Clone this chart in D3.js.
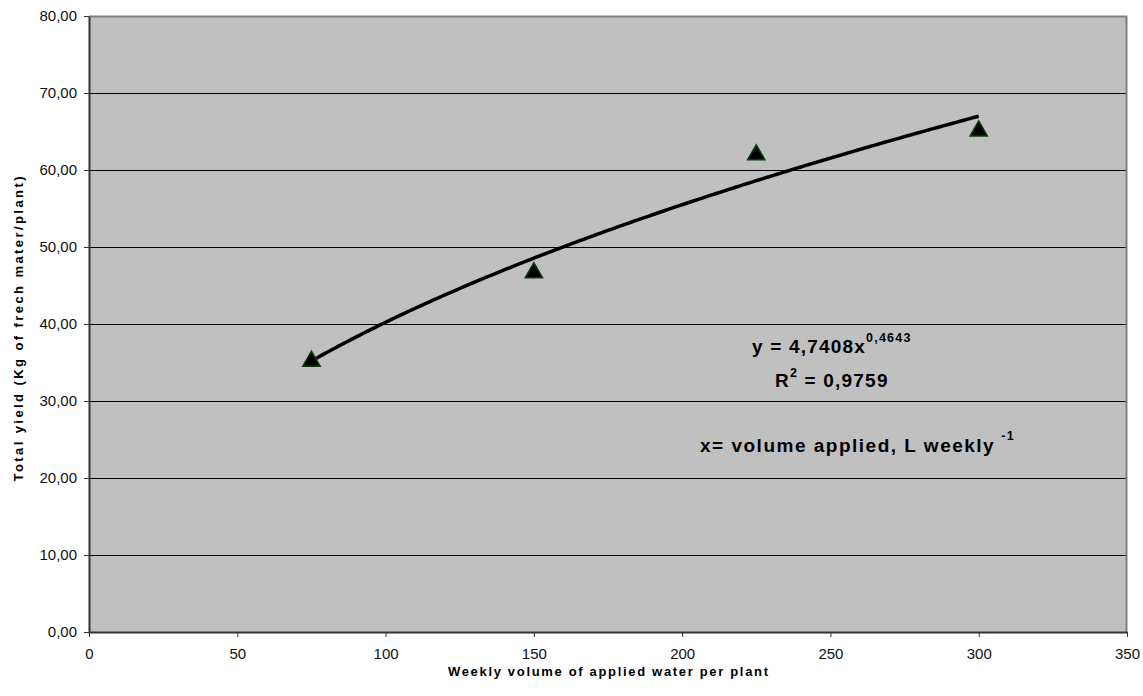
<!doctype html>
<html lang="en">
<head>
    <meta charset="UTF-8">
    <title>Total yield vs weekly water volume</title>
    <style>
        body { margin: 0; background: #fff; }
        svg text { font-family: "Liberation Sans", Arial, sans-serif; }
    </style>
</head>
<body>

<div class="canvas"></div>

<script src="https://d3js.org/d3.v7.min.js"></script>
<script>
    // observed points
    const volumes = [75, 150, 225, 300];
    const yields = [35.3, 46.8, 62.1, 65.2];

    // power trendline as printed on the chart: y = a * x^b
    const trendA = 4.7408;
    const trendB = 0.4643;

    const xTicks = [0, 50, 100, 150, 200, 250, 300, 350];
    const yTicks = [0, 10, 20, 30, 40, 50, 60, 70, 80];

    const svgWidth = 1143;
    const svgHeight = 696;
    const margin = { top: 16, right: 16, bottom: 64, left: 89 };
    const graphWidth = svgWidth - margin.left - margin.right;
    const graphHeight = svgHeight - margin.top - margin.bottom;

    const svg = d3.select('.canvas').append('svg')
        .attr('width', svgWidth)
        .attr('height', svgHeight);

    const graph = svg.append('g')
        .attr('transform', `translate(${margin.left}, ${margin.top})`);

    const x = d3.scaleLinear().domain([0, 350]).range([0, graphWidth]);
    const y = d3.scaleLinear().domain([0, 80]).range([graphHeight, 0]);

    // plot area
    graph.append('rect')
        .attr('width', graphWidth)
        .attr('height', graphHeight)
        .attr('fill', '#c0c0c0');

    // gridlines
    graph.selectAll('.grid')
        .data(yTicks.slice(1, -1))
        .enter().append('line')
        .attr('x1', 0).attr('x2', graphWidth)
        .attr('y1', d => y(d)).attr('y2', d => y(d))
        .attr('stroke', '#000')
        .attr('stroke-width', 1)
        .attr('shape-rendering', 'crispEdges');

    // top / right border
    graph.append('path')
        .attr('d', `M0,0.5H${graphWidth - 0.5}V${graphHeight}`)
        .attr('fill', 'none')
        .attr('stroke', '#808080')
        .attr('stroke-width', 2);

    const fmt = d => d.toFixed(2).replace('.', ',');

    const xAxis = d3.axisBottom(x).tickValues(xTicks).tickSize(5).tickSizeOuter(0).tickPadding(11);
    const yAxis = d3.axisLeft(y).tickValues(yTicks).tickSize(5).tickSizeOuter(0).tickPadding(7).tickFormat(fmt);

    const xAxisGroup = graph.append('g')
        .attr('transform', `translate(0, ${graphHeight})`)
        .call(xAxis);
    const yAxisGroup = graph.append('g').call(yAxis);

    [xAxisGroup, yAxisGroup].forEach(g => {
        g.select('.domain').attr('stroke', '#333').attr('stroke-width', 2);
        g.selectAll('.tick line').attr('stroke', '#333');
        g.selectAll('.tick text')
            .attr('font-size', 15)
            .attr('fill', '#111')
            .style('font-family', '"Liberation Sans", Arial, sans-serif');
    });

    // trendline
    const trendPts = d3.range(75, 300.5, 1).map(v => [v, trendA * Math.pow(v, trendB)]);
    graph.append('path')
        .datum(trendPts)
        .attr('d', d3.line().x(d => x(d[0])).y(d => y(d[1])))
        .attr('fill', 'none')
        .attr('stroke', '#000')
        .attr('stroke-width', 3.5);

    // points
    const tri = d3.symbol().type(d3.symbolTriangle).size(130);
    graph.selectAll('.pt')
        .data(volumes.map((v, i) => ({ v, yv: yields[i] })))
        .enter().append('path')
        .attr('d', tri)
        .attr('transform', d => `translate(${x(d.v)}, ${y(d.yv) + 1})`)
        .attr('fill', '#000')
        .attr('stroke', '#0b3d0b')
        .attr('stroke-width', 1.5);

    // axis titles
    svg.append('text')
        .attr('x', margin.left + graphWidth / 2)
        .attr('y', 676)
        .attr('text-anchor', 'middle')
        .attr('font-size', 13)
        .attr('font-weight', 'bold')
        .attr('textLength', 320)
        .attr('lengthAdjust', 'spacing')
        .text('Weekly volume of applied water per plant');

    svg.append('text')
        .attr('transform', `translate(23, ${margin.top + graphHeight / 2 + 5}) rotate(-90)`)
        .attr('text-anchor', 'middle')
        .attr('font-size', 13)
        .attr('font-weight', 'bold')
        .attr('textLength', 305)
        .attr('lengthAdjust', 'spacing')
        .text('Total yield (Kg of frech mater/plant)');

    // equation labels
    const eq = svg.append('g')
        .attr('font-weight', 'bold')
        .attr('fill', '#000')
        .attr('letter-spacing', 1.2);

    const l1 = eq.append('text').attr('x', 752).attr('y', 353).attr('font-size', 19);
    l1.append('tspan').text('y = 4,7408x');
    l1.append('tspan').attr('font-size', 12.5).attr('dy', -11).text('0,4643');

    const l2 = eq.append('text').attr('x', 775).attr('y', 387).attr('font-size', 19);
    l2.append('tspan').text('R');
    l2.append('tspan').attr('font-size', 12.5).attr('dy', -10).text('2');
    l2.append('tspan').attr('dy', 10).text(' = 0,9759');

    const l3 = eq.append('text').attr('x', 700).attr('y', 452).attr('font-size', 19).attr('letter-spacing', 1.5);
    l3.append('tspan').text('x= volume applied, L weekly');
    l3.append('tspan').attr('font-size', 12.5).attr('dx', 6).attr('dy', -12).text('-1');
</script>
</body>
</html>
